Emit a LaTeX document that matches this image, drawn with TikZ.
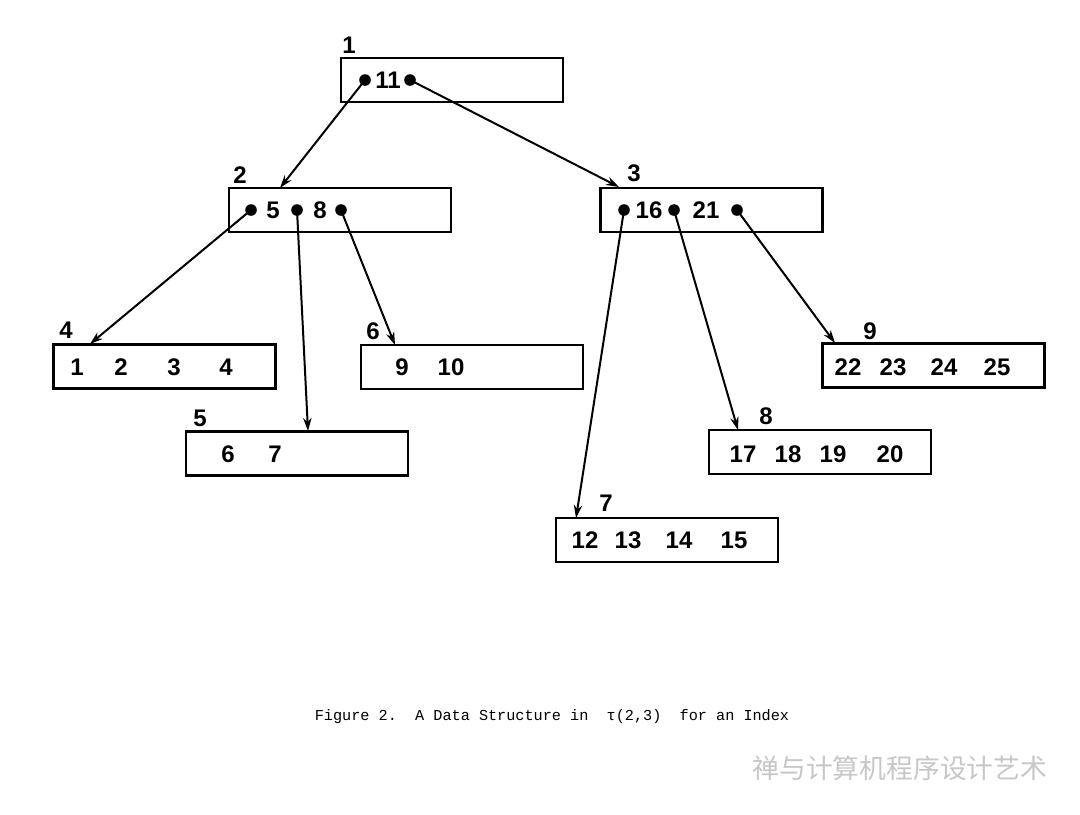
\documentclass[tikz,border=0pt]{standalone}
\usepackage{fontspec}
\setmainfont{Liberation Sans}
\newfontfamily\capfont{Liberation Mono}
\newfontfamily\cjk{Noto Sans CJK SC}
\usetikzlibrary{arrows.meta}
\begin{document}
\begin{tikzpicture}[x=0.5pt,y=-0.5pt,
  box/.style={draw, line width=1.1pt, minimum width=111pt, minimum height=22pt, inner sep=0pt},
  num/.style={font=\fontsize{12}{14}\selectfont\bfseries, inner sep=0pt},
  lbl/.style={font=\fontsize{12}{14}\selectfont\bfseries, inner sep=0pt},
  dot/.style={circle, fill=black, minimum size=5.8pt, inner sep=0pt},
  ptr/.style={line width=1pt, -{Stealth[length=6.5pt,width=4.2pt]}}]
\useasboundingbox[fill=white] (0,0) rectangle (1080,814);
% boxes
\node[box] (b1) at (452,80) {};
\node[box] (b2) at (340,210) {};
\node[box] (b3) at (711.5,210) {};
\node[box] (b4) at (164.5,366.5) {};
\node[box] (b5) at (297,453.5) {};
\node[box] (b6) at (472,367) {};
\node[box] (b7) at (667,540) {};
\node[box] (b8) at (820,452) {};
\node[box] (b9) at (933.5,365.5) {};
% labels
\node[lbl] (l1) at (349,45) {1};
\node[lbl] (l2) at (240,175) {2};
\node[lbl] (l3) at (634,173) {3};
\node[lbl] (l4) at (66,330) {4};
\node[lbl] (l5) at (200,418) {5};
\node[lbl] (l6) at (373,331) {6};
\node[lbl] (l7) at (606,503) {7};
\node[lbl] (l8) at (766,416) {8};
\node[lbl] (l9) at (870,331) {9};
% box 1
\node[num] (k11) at (388,80) {11};
\node[dot] (p1a) at (365,80) {};
\node[dot] (p1b) at (410,80) {};
% box 2
\node[num] (k5) at (273,210) {5};
\node[num] (k8) at (320,210) {8};
\node[dot] (p2a) at (251,210) {};
\node[dot] (p2b) at (297,210) {};
\node[dot] (p2c) at (341,210) {};
% box 3
\node[num] (k16) at (649,210) {16};
\node[num] (k21) at (706,210) {21};
\node[dot] (p3a) at (624,210) {};
\node[dot] (p3b) at (674,210) {};
\node[dot] (p3c) at (737,210) {};
% leaves
\node[num] (k1) at (77,367) {1};
\node[num] (k2) at (121,367) {2};
\node[num] (k3) at (174,367) {3};
\node[num] (k4) at (226,367) {4};
\node[num] (k6) at (228,454) {6};
\node[num] (k7) at (275,454) {7};
\node[num] (k9) at (402,367) {9};
\node[num] (k10) at (451,367) {10};
\node[num] (k12) at (585,540) {12};
\node[num] (k13) at (628,540) {13};
\node[num] (k14) at (679,540) {14};
\node[num] (k15) at (734,540) {15};
\node[num] (k17) at (743,454) {17};
\node[num] (k18) at (788,454) {18};
\node[num] (k19) at (833,454) {19};
\node[num] (k20) at (890,454) {20};
\node[num] (k22) at (848,367) {22};
\node[num] (k23) at (893,367) {23};
\node[num] (k24) at (944,367) {24};
\node[num] (k25) at (997,367) {25};
% arrow end points
\coordinate (e2) at (280,188);
\coordinate (e3) at (619,187);
\coordinate (e4) at (90,344);
\coordinate (e5) at (308,431);
\coordinate (e6) at (395,345);
\coordinate (e7) at (576,518);
\coordinate (e8) at (738,430);
\coordinate (e9) at (835,343);
% pointers
\draw[ptr] (p1a.center) -- (e2);
\draw[ptr] (p1b.center) -- (e3);
\draw[ptr] (p2a.center) -- (e4);
\draw[ptr] (p2b.center) -- (e5);
\draw[ptr] (p2c.center) -- (e6);
\draw[ptr] (p3a.center) -- (e7);
\draw[ptr] (p3b.center) -- (e8);
\draw[ptr] (p3c.center) -- (e9);
% caption
\node[font=\capfont\fontsize{7.6}{9}\selectfont, inner sep=0pt] (cap) at (552,717) {Figure 2.\ \ A Data Structure in\ \ τ(2,3)\ \ for an Index};
% watermark
\node[font=\cjk\fontsize{13.4}{15}\selectfont, text=black!22, inner sep=0pt, anchor=west] (wm) at (752,768) {禅与计算机程序设计艺术};
\end{tikzpicture}
\end{document}
